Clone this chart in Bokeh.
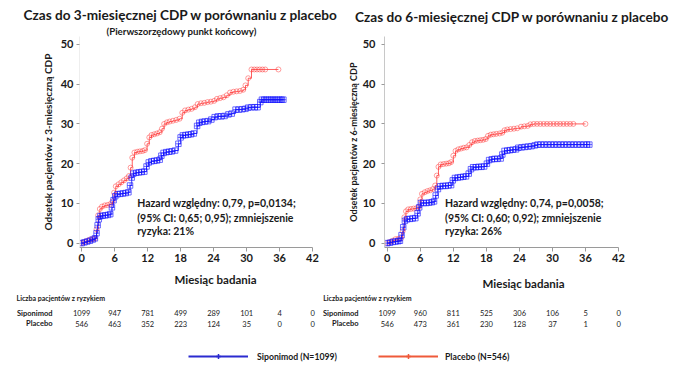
import numpy as np
from bokeh.plotting import figure
from bokeh.models import Range1d, FixedTicker, ColumnDataSource, Legend, LegendItem, Title
from bokeh.layouts import row, column
from bokeh.core.properties import value
from bokeh.embed import file_html
from bokeh.resources import INLINE

FONT = "Lato"

# ---------------- data ----------------
months_ticks = [0, 6, 12, 18, 24, 30, 36, 42]
y_ticks = [0, 10, 20, 30, 40, 50]

# 3-month CDP, Siponimod
cdp3_sipo_t = [0, 0.5, 1, 1.5, 2, 2.4, 2.7, 2.9, 3.1, 3.4, 3.8, 4.3, 4.8, 5.2, 5.5, 5.8, 6.1, 6.5, 7.0, 7.5,
               8.0, 8.5, 8.8, 9.1, 9.4, 9.9, 10.4, 10.9, 11.4, 11.8, 12.2, 12.7, 13.2, 13.7, 14.2, 14.5, 14.9,
               15.4, 15.9, 16.4, 17.0, 17.6, 18.0, 18.4, 18.9, 19.4, 19.9, 20.4, 21.0, 21.4, 21.9, 22.4, 23.0,
               23.6, 24.2, 24.8, 25.4, 26.0, 26.7, 27.3, 28.0, 28.6, 29.2, 29.8, 30.3, 30.9, 31.5, 32.0, 32.5,
               32.8, 33.2, 33.6, 34.0, 34.4, 34.8, 35.2, 35.6, 36.0, 36.4, 36.7]
cdp3_sipo_v = [0, 0.2, 0.4, 0.6, 0.9, 1.2, 2.5, 4.5, 6.0, 6.8, 6.9, 7.0, 7.1, 7.3, 9.0, 10.8, 11.8, 12.3, 12.4, 12.5,
               12.6, 12.8, 14.5, 16.5, 17.5, 17.7, 17.8, 17.9, 18.0, 19.3, 20.3, 20.6, 20.7, 20.8, 21.0, 22.0, 22.7,
               22.9, 23.0, 23.1, 23.3, 25.0, 26.6, 27.1, 27.2, 27.3, 27.4, 27.6, 29.5, 30.3, 30.5, 30.6, 30.7,
               31.1, 31.7, 31.9, 31.9, 32.0, 32.4, 32.6, 33.6, 33.6, 33.7, 33.8, 34.1, 34.2, 34.2, 34.2, 35.5,
               36.1, 36.1, 36.1, 36.1, 36.1, 36.1, 36.1, 36.1, 36.1, 36.1, 36.1]

# 3-month CDP, Placebo
cdp3_plac_t = [0, 0.5, 1, 1.5, 2, 2.4, 2.7, 3.0, 3.3, 3.7, 4.2, 4.7, 5.2, 5.6, 5.9, 6.2, 6.7, 7.2, 7.7, 8.2, 8.6,
               8.9, 9.2, 9.6, 10.1, 10.6, 11.1, 11.5, 11.9, 12.3, 12.7, 13.2, 13.7, 14.2, 14.6, 15.0, 15.5, 16.0,
               16.6, 17.2, 17.8, 18.3, 18.8, 19.4, 20.0, 20.6, 21.1, 21.7, 22.3, 22.9, 23.5, 24.1, 24.6, 25.2,
               25.8, 26.4, 27.0, 27.6, 28.2, 28.8, 29.4, 29.8, 30.3, 30.9, 31.4, 31.9, 32.4, 32.9, 33.4, 35.8]
cdp3_plac_v = [0, 0.3, 0.6, 0.9, 1.0, 1.2, 3.5, 7.0, 8.6, 9.2, 9.5, 9.6, 9.8, 10.5, 12.7, 14.3, 14.8, 15.3, 15.8,
               16.3, 16.9, 19.0, 21.5, 22.8, 23.0, 23.1, 23.2, 23.4, 25.0, 26.6, 27.2, 27.4, 27.6, 27.9, 28.8,
               30.0, 30.4, 30.6, 30.8, 31.0, 31.3, 32.8, 33.4, 33.6, 33.8, 34.2, 35.0, 35.2, 35.3, 35.5, 35.6,
               35.8, 36.3, 36.5, 36.7, 37.2, 37.9, 38.1, 38.2, 38.3, 38.6, 39.7, 41.5, 43.7, 43.7, 43.7, 43.7,
               43.7, 43.7, 43.7]

# 6-month CDP, Siponimod
cdp6_sipo_t = [0, 0.5, 1.0, 1.5, 2.0, 2.3, 2.6, 2.9, 3.2, 3.6, 4.1, 4.6, 5.1, 5.5, 5.8, 6.1, 6.6, 7.1, 7.6, 8.1,
               8.5, 8.8, 9.2, 9.6, 10.1, 10.6, 11.1, 11.6, 11.9, 12.3, 12.8, 13.3, 13.8, 14.3, 14.8, 15.2, 15.6,
               16.1, 16.6, 17.1, 17.6, 18.1, 18.5, 19.0, 19.5, 20.0, 20.6, 20.9, 21.3, 21.8, 22.3, 22.8, 23.4,
               23.8, 24.4, 25.0, 25.6, 26.2, 26.8, 27.3, 27.9, 28.5, 29.1, 29.7, 30.3, 30.9, 31.5, 32.1, 32.7,
               33.3, 33.9, 34.5, 35.1, 35.7, 36.3, 36.7]
cdp6_sipo_v = [0, 0.1, 0.3, 0.4, 0.5, 0.6, 2.0, 4.0, 5.6, 6.0, 6.1, 6.2, 6.3, 7.5, 9.0, 10.1, 10.1, 10.1, 10.2,
               10.3, 10.5, 12.0, 13.6, 14.3, 14.4, 14.4, 14.5, 14.6, 15.8, 16.4, 16.5, 16.6, 16.7, 16.8, 17.5,
               18.6, 19.1, 19.1, 19.2, 19.2, 19.3, 20.0, 20.9, 21.1, 21.2, 21.2, 21.3, 22.3, 23.2, 23.3, 23.4,
               23.5, 23.6, 24.0, 24.1, 24.2, 24.3, 24.4, 24.6, 24.8, 24.8, 24.8, 24.8, 24.8, 24.8, 24.8, 24.8,
               24.8, 24.8, 24.8, 24.8, 24.8, 24.8, 24.8, 24.8, 24.8]

# 6-month CDP, Placebo
cdp6_plac_t = [0, 0.5, 1.0, 1.5, 2.0, 2.5, 2.8, 3.1, 3.4, 3.8, 4.3, 4.8, 5.3, 5.8, 6.0, 6.3, 6.8, 7.3, 7.8, 8.3,
               8.7, 9.0, 9.3, 9.7, 10.2, 10.7, 11.2, 11.6, 12.0, 12.4, 12.9, 13.4, 13.9, 14.4, 14.9, 15.4, 15.9,
               16.4, 16.9, 17.4, 17.9, 18.3, 18.8, 19.3, 19.8, 20.4, 20.9, 21.3, 21.8, 22.4, 23.0, 23.6, 24.3,
               24.9, 25.5, 26.0, 26.6, 27.2, 27.8, 28.4, 29.0, 29.6, 30.2, 30.8, 31.4, 32.0, 32.6, 33.2, 33.8,
               36.0]
cdp6_plac_v = [0, 0.3, 0.6, 1.0, 1.1, 1.2, 3.0, 6.5, 8.0, 8.5, 8.6, 8.7, 8.8, 9.2, 11.0, 12.4, 12.8, 13.1, 13.3,
               13.6, 14.5, 17.0, 19.2, 19.8, 19.9, 20.0, 20.1, 20.4, 22.0, 23.2, 23.6, 23.8, 24.0, 24.1, 24.7,
               25.4, 25.7, 25.8, 25.9, 26.0, 26.2, 27.0, 27.3, 27.4, 27.5, 27.6, 27.8, 28.4, 28.6, 28.7, 28.8,
               28.9, 29.3, 29.4, 29.5, 29.9, 30.0, 30.0, 30.0, 30.0, 30.0, 30.0, 30.0, 30.0, 30.0, 30.0, 30.0,
               30.0, 30.0, 30.0]

risk_months = [0, 6, 12, 18, 24, 30, 36, 42]
risk3_sipo = [1099, 947, 781, 499, 289, 101, 4, 0]
risk3_plac = [546, 463, 352, 223, 124, 35, 0, 0]
risk6_sipo = [1099, 960, 811, 525, 306, 106, 5, 0]
risk6_plac = [546, 473, 361, 230, 128, 37, 1, 0]

titles = ["Czas do 3-miesięcznej CDP w porównaniu z placebo",
          "Czas do 6-miesięcznej CDP w porównaniu z placebo"]
subtitle = "(Pierwszorzędowy punkt końcowy)"
ylabels = ["Odsetek pacjentów z 3-miesięczną CDP", "Odsetek pacjentów z 6-miesięczną CDP"]
xlabel = "Miesiąc badania"
hr_texts = [["Hazard względny: 0,79, p=0,0134;", "(95% CI: 0,65; 0,95); zmniejszenie", "ryzyka: 21%"],
            ["Hazard względny: 0,74, p=0,0058;", "(95% CI: 0,60; 0,92); zmniejszenie", "ryzyka: 26%"]]
risk_header = "Liczba pacjentów z ryzykiem"
arms = ["Siponimod", "Placebo"]
legend_labels = ["Siponimod (N=1099)", "Placebo (N=546)"]

BLUE = "#1010ff"
RED = "#ff2a2a"
LEG_BLUE = "#2b2bd0"
LEG_RED = "#ef5a3a"
TXT = "#1a1a1a"
TOP_H = 270


def mk_title(text, size, offset, standoff):
    return Title(text=text, align="left", offset=offset, standoff=standoff, text_font=FONT,
                 text_font_style="bold", text_font_size=size, text_color=TXT)


def km_plot(x_start, yr, min_left, min_right, min_top, sipo_t, sipo_v, plac_t, plac_v, ylab, yaxis_color,
            label_standoff, axis_label_standoff, ylab_size):
    p = figure(width=343, height=TOP_H, x_range=Range1d(x_start, 42), y_range=Range1d(yr[0], yr[1]),
               output_backend="svg", toolbar_location=None, title=None,
               min_border_left=min_left, min_border_right=min_right,
               min_border_top=min_top, min_border_bottom=TOP_H - min_top - yr[2])
    p.outline_line_color = None
    p.grid.visible = False

    p.step(plac_t, plac_v, mode="after", line_color=RED, line_width=1, line_alpha=0.75)
    p.scatter(plac_t, plac_v, marker="circle", size=5, line_color=RED, fill_color=None,
              line_alpha=0.45, line_width=1)
    p.step(sipo_t, sipo_v, mode="after", line_color=BLUE, line_width=1, line_alpha=0.8)
    p.scatter(sipo_t, sipo_v, marker="square_cross", size=5.5, line_color=BLUE, fill_color=None,
              line_alpha=0.6, line_width=1)

    p.xaxis.ticker = FixedTicker(ticks=months_ticks)
    p.yaxis.ticker = FixedTicker(ticks=y_ticks)
    for ax in (p.xaxis[0], p.yaxis[0]):
        ax.major_label_text_font = FONT
        ax.major_label_text_font_style = "bold"
        ax.major_label_text_font_size = "11px"
        ax.major_label_text_color = TXT
        ax.major_tick_in = 0
        ax.minor_tick_line_color = None
        ax.major_tick_line_color = "#9a9a9a"
    p.xaxis.axis_line_color = "#9a9a9a"
    p.xaxis.major_tick_out = 4
    p.xaxis.major_label_standoff = 2
    p.yaxis.axis_line_color = yaxis_color
    p.yaxis.major_tick_out = 3
    p.yaxis.major_label_standoff = label_standoff
    p.yaxis.axis_label = ylab
    p.yaxis.axis_label_text_font = FONT
    p.yaxis.axis_label_text_font_style = "bold"
    p.yaxis.axis_label_text_font_size = ylab_size
    p.yaxis.axis_label_text_color = TXT
    p.yaxis.axis_label_standoff = axis_label_standoff
    return p


# y range: (bottom, top, frame height in px); frames of a row share their top border
p1 = km_plot(-0.4, (-1.1, 52, 211), 79, 31, 36, cdp3_sipo_t, cdp3_sipo_v, cdp3_plac_t, cdp3_plac_v,
             ylabels[0], "#eeeeee", 3, 4, "10px")
p2 = km_plot(-0.5, (-1.1, 52, 211), 41, 68, 36, cdp6_sipo_t, cdp6_sipo_v, cdp6_plac_t, cdp6_plac_v,
             ylabels[1], "#c8c8c8", 6, 1, "9px")

p1.add_layout(mk_title(subtitle, "9.7px", 27, 0), "above")
p1.add_layout(mk_title(titles[0], "13.6px", -56, 0), "above")
p2.add_layout(mk_title(" ", "8.6px", 0, 0), "above")
p2.add_layout(mk_title(titles[1], "13.6px", -29.5, 0), "above")

for p, x0, ys, lines in ((p1, 10.1, [10.04, 6.37, 3.0], hr_texts[0]),
                         (p2, 10.5, [10.04, 6.4, 3.1], hr_texts[1])):
    src = ColumnDataSource(dict(x=[x0] * 3, y=ys, t=lines))
    p.text(x="x", y="y", text="t", source=src, text_font=value(FONT), text_font_style="bold",
           text_font_size="10.5px", text_color=TXT, text_baseline="middle", text_align="left")

# ---------------- axis titles, risk table + legend (one strip, two x scales) ----------------
BOT_H = 370 - TOP_H
t = figure(width=686, height=BOT_H, x_range=Range1d(-14.76, 109.96), y_range=Range1d(BOT_H, 0),
           output_backend="svg", toolbar_location=None, title=None,
           min_border_left=0, min_border_right=0, min_border_top=0, min_border_bottom=0)
t.extra_x_ranges = {"r": Range1d(-70.19, 54.31)}
t.axis.visible = False
t.grid.visible = False
t.outline_line_color = None

for rng, xl, xly, hx, ax_, sipo, plac in (("default", 24.33, 9.0, -11.85, -5.31, risk3_sipo, risk3_plac),
                                          ("r", 24.73, 12.7, -11.63, -5.22, risk6_sipo, risk6_plac)):
    t.text(x=[xl], y=[xly], text=[xlabel], x_range_name=rng, text_font=value(FONT),
           text_font_style="bold", text_font_size="11.5px", text_color=TXT, text_baseline="middle",
           text_align="center")
    t.text(x=[hx], y=[27.7], text=[risk_header], x_range_name=rng, text_font=value(FONT),
           text_font_style="bold", text_font_size="7px", text_color=TXT, text_baseline="middle",
           text_align="left")
    t.text(x=[ax_, ax_], y=[42.7, 53.3], text=arms, x_range_name=rng, text_font=value(FONT),
           text_font_style="bold", text_font_size="7.5px", text_color=TXT, text_baseline="middle",
           text_align="right")
    t.text(x=risk_months, y=[42.7] * len(risk_months), text=[str(v) for v in sipo], x_range_name=rng,
           text_font=value(FONT), text_font_size="7.5px", text_color=TXT, text_baseline="middle",
           text_align="center")
    t.text(x=risk_months, y=[53.3] * len(risk_months), text=[str(v) for v in plac], x_range_name=rng,
           text_font=value(FONT), text_font_size="7.5px", text_color=TXT, text_baseline="middle",
           text_align="center")

for lab, col, loc, stand in ((legend_labels[0], LEG_BLUE, (188, 8), 9),
                             (legend_labels[1], LEG_RED, (378, 8), 7)):
    nan_src = ColumnDataSource(dict(x=[np.nan], y=[np.nan]))
    r1 = t.line("x", "y", source=nan_src, line_color=col, line_width=2)
    r2 = t.scatter("x", "y", source=nan_src, marker="cross", size=8, line_color=col, line_width=1.5)
    leg = Legend(items=[LegendItem(label=lab, renderers=[r1, r2])], location=loc,
                 padding=0, margin=0, border_line_color=None, background_fill_alpha=0,
                 glyph_width=60, glyph_height=12, label_height=12, label_standoff=stand,
                 label_text_font=FONT, label_text_font_style="bold", label_text_font_size="8.7px",
                 label_text_color=TXT)
    t.add_layout(leg)

layout = column(row(p1, p2), t)
open("out.html", "w").write(file_html(layout, INLINE))
